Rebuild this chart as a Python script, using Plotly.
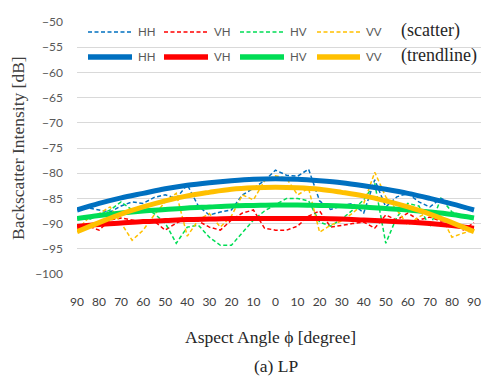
import plotly.graph_objects as go

# Aspect angle axis: -90..90 (left half mirrored), labelled by absolute value
angles = list(range(-90, 91, 5))
tick_angles = list(range(-90, 91, 10))
tick_labels = [str(abs(a)) for a in tick_angles]

# Measured backscatter (dB), every 5 degrees
hh_scatter = [-87.0, -86.9, -87.3, -87.7, -86.5, -85.7, -86.0, -84.8, -84.3, -85.0,
              -82.3, -86.5, -88.3, -87.7, -87.3, -84.3, -83.0, -81.5, -79.4, -80.4,
              -80.6, -79.2, -85.5, -87.2, -86.5, -86.0, -87.9, -81.3, -86.7, -84.7,
              -84.0, -85.7, -86.7, -85.0, -86.0, -87.0, -87.3]
vh_scatter = [-90.3, -90.5, -91.3, -89.3, -88.9, -89.3, -89.7, -89.5, -91.3, -89.9,
              -88.9, -89.5, -90.7, -91.3, -89.3, -87.9, -87.3, -90.9, -91.3, -91.3,
              -90.5, -88.5, -87.5, -90.7, -90.3, -90.0, -89.7, -90.9, -88.3, -89.3,
              -87.9, -89.3, -88.7, -89.5, -89.5, -91.3, -89.8]
hv_scatter = [-88.7, -89.3, -88.3, -87.3, -85.7, -87.3, -86.7, -88.0, -89.9, -93.9,
              -90.7, -90.3, -92.7, -94.3, -94.3, -91.9, -89.3, -87.5, -86.3, -85.0,
              -85.0, -85.5, -89.7, -90.5, -89.1, -87.3, -85.3, -82.0, -93.9, -88.7,
              -86.0, -86.5, -90.7, -85.0, -87.7, -88.5, -88.9]
vv_scatter = [-91.3, -89.0, -88.0, -86.7, -89.9, -93.3, -91.3, -88.3, -85.7, -84.0,
              -92.5, -89.3, -88.0, -90.7, -88.5, -84.3, -85.3, -81.5, -80.5, -81.0,
              -84.3, -83.0, -91.7, -90.3, -89.5, -87.9, -86.0, -79.8, -84.7, -87.3,
              -90.3, -88.7, -87.5, -88.5, -92.7, -91.9, -91.3]

# Fitted trendlines (dB), every 10 degrees
hh_trend = [-87.3, -86.0, -84.9, -84.0, -83.1, -82.4, -81.9, -81.5, -81.2, -81.1,
            -81.2, -81.5, -81.9, -82.5, -83.2, -84.0, -85.0, -86.1, -87.3]
vh_trend = [-90.6, -90.2, -89.9, -89.6, -89.4, -89.2, -89.1, -89.0, -89.0, -89.0,
            -89.0, -89.0, -89.1, -89.3, -89.5, -89.7, -90.0, -90.4, -90.9]
hv_trend = [-89.0, -88.4, -87.9, -87.5, -87.2, -86.9, -86.7, -86.5, -86.4, -86.3,
            -86.3, -86.4, -86.5, -86.7, -87.0, -87.3, -87.7, -88.2, -88.9]
vv_trend = [-91.6, -89.8, -88.1, -86.7, -85.5, -84.5, -83.8, -83.2, -82.9, -82.8,
            -82.9, -83.2, -83.8, -84.5, -85.5, -86.7, -88.1, -89.8, -91.6]

series_names = ["HH", "VH", "HV", "VV"]
colors = ["#0070C0", "#FF0000", "#00DD55", "#FFC000"]
scatter_sets = [hh_scatter, vh_scatter, hv_scatter, vv_scatter]
trend_sets = [hh_trend, vh_trend, hv_trend, vv_trend]

W, H = 486, 381
L, R, T, B = 77, 481, 22, 274
DEG_PX = 397 / 180.0
x_max = -90 + (R - L) / DEG_PX

SANS = "Lato, Open Sans, sans-serif"
SERIF = "Liberation Serif, serif"


def px(x):
    return (x - L) / (R - L)


def py(y):
    return (B - y) / (B - T)


fig = go.Figure()

for name, col, vals in zip(series_names, colors, scatter_sets):
    fig.add_trace(go.Scatter(x=angles, y=vals, mode="lines", name=name + " (scatter)",
                             line=dict(color=col, width=1.5, dash="4px,2.5px"),
                             showlegend=False, hoverinfo="skip"))

for name, col, vals in zip(series_names, colors, trend_sets):
    fig.add_trace(go.Scatter(x=tick_angles, y=vals, mode="lines", name=name + " (trendline)",
                             line=dict(color=col, width=5, shape="spline"),
                             showlegend=False, hoverinfo="skip"))

# Two-row legend drawn inside the plot area
shapes = []
annotations = []
seg_x = [(88, 132), (164, 208), (240, 284), (317, 360)]
rows = [(32, dict(width=1.6, dash="4px,2.5px"), "(scatter)"),
        (57, dict(width=5.5), "(trendline)")]
for row_y, style, label in rows:
    for (x0, x1), col, name in zip(seg_x, colors, series_names):
        shapes.append(dict(type="line", xref="paper", yref="paper",
                           x0=px(x0), x1=px(x1), y0=py(row_y), y1=py(row_y),
                           line=dict(color=col, **style), layer="above"))
        annotations.append(dict(text=name, xref="paper", yref="paper",
                                x=px(x1 + 4), y=py(row_y), xanchor="left", yanchor="middle",
                                showarrow=False,
                                font=dict(family=SANS, size=11.5, color="#595959")))
    annotations.append(dict(text=label, xref="paper", yref="paper",
                            x=px(399), y=py(row_y - 1), xanchor="left", yanchor="middle",
                            showarrow=False,
                            font=dict(family=SERIF, size=18, color="#262626")))

annotations.append(dict(text="Backscatter Intensity [dB]", xref="paper", yref="paper",
                        x=px(18), y=py(148), xanchor="center", yanchor="middle",
                        textangle=-90, showarrow=False,
                        font=dict(family=SERIF, size=17.5, color="#404040")))
annotations.append(dict(text="Aspect Angle \u03d5 [degree]", xref="paper", yref="paper",
                        x=px(270), y=py(337), xanchor="center", yanchor="middle",
                        showarrow=False, font=dict(family=SERIF, size=17.5, color="#262626")))
annotations.append(dict(text="(a) LP", xref="paper", yref="paper",
                        x=px(276), y=py(366), xanchor="center", yanchor="middle",
                        showarrow=False, font=dict(family=SERIF, size=17.5, color="#262626")))

fig.update_layout(
    width=W, height=H,
    margin=dict(l=L, r=W - R, t=T, b=H - B, pad=0),
    paper_bgcolor="white", plot_bgcolor="white",
    shapes=shapes, annotations=annotations,
    xaxis=dict(range=[-90, x_max], tickmode="array", tickvals=tick_angles, ticktext=tick_labels,
               showgrid=False, zeroline=False, showline=False, ticks="",
               ticklabelstandoff=19,
               tickfont=dict(family=SANS, size=12, color="#404040")),
    yaxis=dict(range=[-100, -50], tickmode="array", tickvals=list(range(-100, -49, 5)),
               showgrid=True, gridcolor="#D9D9D9", gridwidth=1, zeroline=False,
               showline=False, ticks="", ticklabelstandoff=13,
               tickfont=dict(family=SANS, size=12, color="#595959")),
)

fig.write_html("out.html")
